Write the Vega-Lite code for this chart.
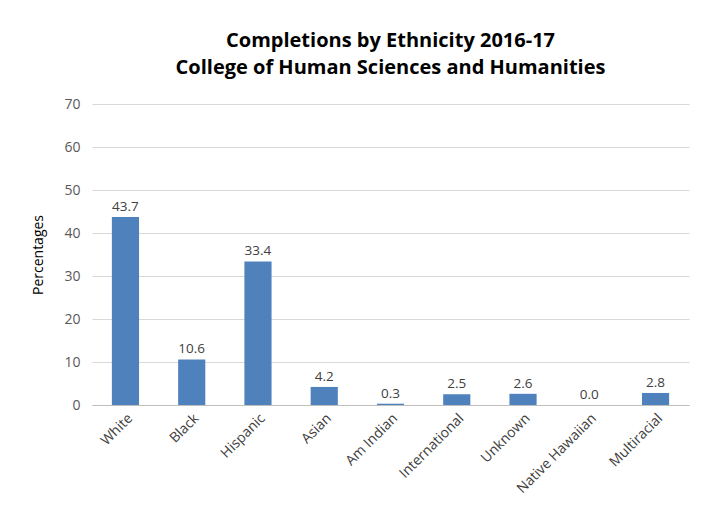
{
  "$schema": "https://vega.github.io/schema/vega-lite/v6.json",
  "width": 597,
  "height": 301,
  "padding": {"left": 31, "top": 31, "right": 20, "bottom": 10},
  "background": "white",
  "title": {
    "text": ["Completions by Ethnicity 2016-17", "College of Human Sciences and Humanities"],
    "font": "Open Sans",
    "fontSize": 20,
    "fontWeight": "bold",
    "color": "#000000",
    "anchor": "middle",
    "lineHeight": 27,
    "offset": 19
  },
  "data": {
    "values": [
      {"ethnicity": "White", "pct": 43.7},
      {"ethnicity": "Black", "pct": 10.6},
      {"ethnicity": "Hispanic", "pct": 33.4},
      {"ethnicity": "Asian", "pct": 4.2},
      {"ethnicity": "Am Indian", "pct": 0.3},
      {"ethnicity": "International", "pct": 2.5},
      {"ethnicity": "Unknown", "pct": 2.6},
      {"ethnicity": "Native Hawaiian", "pct": 0.0},
      {"ethnicity": "Multiracial", "pct": 2.8}
    ]
  },
  "encoding": {
    "x": {
      "field": "ethnicity",
      "type": "nominal",
      "sort": null,
      "scale": {"paddingInner": 0.59, "paddingOuter": 0.3},
      "axis": {
        "title": null,
        "labelAngle": -45,
        "labelFont": "Open Sans",
        "labelFontSize": 14,
        "labelColor": "#404040",
        "domainColor": "#BFBFBF",
        "ticks": false,
        "labelPadding": 6
      }
    },
    "y": {
      "field": "pct",
      "type": "quantitative",
      "scale": {"domain": [0, 70]},
      "axis": {
        "title": "Percentages",
        "titleFont": "Open Sans",
        "titleFontSize": 14,
        "titleFontWeight": "normal",
        "titleColor": "#000000",
        "titlePadding": 18,
        "values": [0, 10, 20, 30, 40, 50, 60, 70],
        "labelFont": "Open Sans",
        "labelFontSize": 14,
        "labelColor": "#595959",
        "labelPadding": 12,
        "domain": false,
        "ticks": false,
        "gridColor": "#D9D9D9"
      }
    }
  },
  "layer": [
    {"mark": {"type": "bar", "color": "#4F81BD"}},
    {
      "mark": {"type": "text", "dy": -10, "font": "Open Sans", "fontSize": 13.5, "color": "#404040"},
      "encoding": {"text": {"field": "pct", "type": "quantitative", "format": ".1f"}}
    }
  ],
  "config": {"view": {"stroke": null}}
}
